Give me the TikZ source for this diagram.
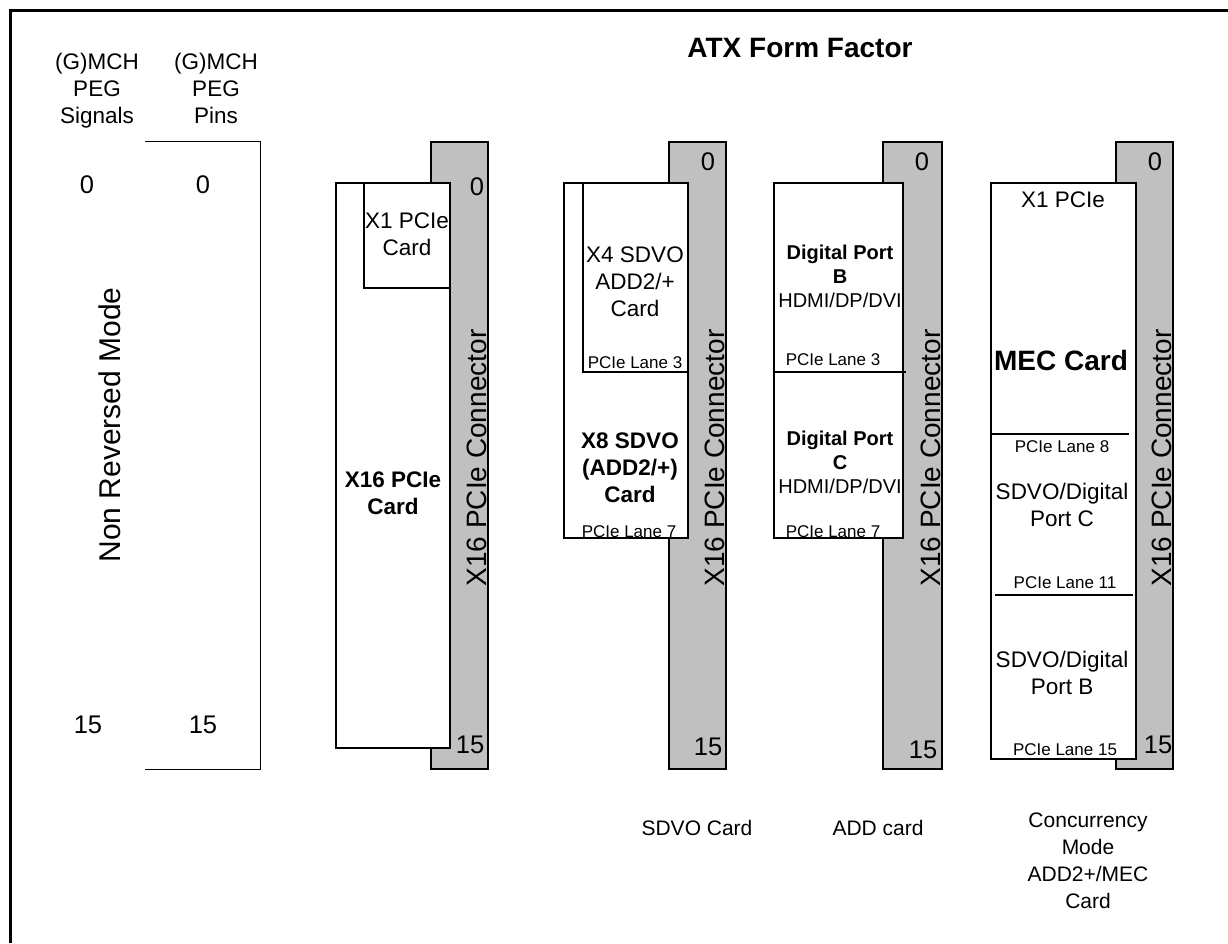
\documentclass[tikz,border=0pt]{standalone}
\usepackage{fontspec}
\setmainfont{Liberation Sans}
\definecolor{conngray}{HTML}{C0C0C0}
\newcommand\szN{\fontsize{22.5}{27}\selectfont}
\newcommand\szS{\fontsize{17}{20}\selectfont}
\newcommand\szD{\fontsize{20}{24}\selectfont}
\newcommand\szL{\fontsize{28}{33}\selectfont}
\newcommand\szR{\fontsize{30}{36}\selectfont}
\newcommand\szG{\fontsize{25.5}{30}\selectfont}
\begin{document}
\begin{tikzpicture}[x=1pt,y=-1pt,
  conn/.style={draw=black, fill=conngray, line width=1.4pt},
  card/.style={draw=black, fill=white, line width=1.4pt},
  cardline/.style={draw=black, line width=1.4pt},
  thinline/.style={draw=black, line width=0.9pt},
  txt/.style={inner sep=0pt, align=center, font=\szN},
  small/.style={inner sep=0pt, align=center, font=\szS},
  digit/.style={inner sep=0pt, font=\szG},
  conntext/.style={inner sep=0pt, rotate=90, anchor=base, font=\szL}
]
\useasboundingbox (0,0) rectangle (1228,943);
% frame
\draw[line width=3pt] (10,943) -- (10,10) -- (1228,10);
% title
\node[inner sep=0pt, font=\szL\bfseries] (title) at (800,48) {ATX Form Factor};
% left headers
\node[txt] (hsig) at (97,91) {(G)MCH\\PEG\\Signals};
\node[txt] (hpin) at (216,88) {(G)MCH\\PEG\\Pins};
\draw[thinline] (145,141) -- (260,141) -- (260,769) -- (145,769);
\node[digit] (s0) at (87,185) {0};
\node[digit] (p0) at (203,185) {0};
\node[digit] (s15) at (88,725) {15};
\node[digit] (p15) at (203,725) {15};
\node[inner sep=0pt, rotate=90, font=\szR] (mode) at (110,425) {Non Reversed Mode};

% column 1
\path[conn] (431,142) rectangle (488,769);
\path[card] (336,183) rectangle (450,748);
\path[card] (364,183) rectangle (450,288);
\node[txt] (x1a) at (407,234) {X1 PCIe\\Card};
\node[txt, font=\szN\bfseries] (x16) at (393,493) {X16 PCIe\\Card};
\node[digit] (c1z) at (477,187) {0};
\node[digit] (c1f) at (470,745) {15};
\node[conntext] (c1t) at (486,458) {X16 PCIe Connector};

% column 2
\path[conn] (669,142) rectangle (726,769);
\path[card] (564,183) rectangle (688,538);
\draw[cardline] (583,183) -- (583,372) -- (688,372);
\node[txt] (x4) at (635,282) {X4 SDVO\\ADD2/+\\Card};
\node[small] (l3a) at (635,363) {PCIe Lane 3};
\node[txt, font=\szN\bfseries] (x8) at (630,468) {X8 SDVO\\(ADD2/+)\\Card};
\node[small] (l7a) at (629,532) {PCIe Lane 7};
\node[digit] (c2z) at (708,162) {0};
\node[digit] (c2f) at (708,747) {15};
\node[conntext] (c2t) at (724,458) {X16 PCIe Connector};

% column 3
\path[conn] (883,142) rectangle (942,769);
\path[card] (774,183) rectangle (903,538);
\draw[cardline] (774,372) -- (906,372);
\node[txt, font=\szD] (dpb) at (840,276) {\textbf{Digital Port}\\\textbf{B}\\HDMI/DP/DVI};
\node[small] (l3b) at (833,360) {PCIe Lane 3};
\node[txt, font=\szD] (dpc) at (840,462) {\textbf{Digital Port}\\\textbf{C}\\HDMI/DP/DVI};
\node[small] (l7b) at (833,532) {PCIe Lane 7};
\node[digit] (c3z) at (922,162) {0};
\node[digit] (c3f) at (923,750) {15};
\node[conntext] (c3t) at (940,458) {X16 PCIe Connector};

% column 4
\path[conn] (1116,142) rectangle (1173,769);
\path[card] (991,183) rectangle (1136,759);
\draw[cardline] (991,434) -- (1129,434);
\draw[cardline] (995,595) -- (1133,595);
\node[txt] (x1b) at (1063,200) {X1 PCIe};
\node[inner sep=0pt, font=\szL\bfseries] (mec) at (1061,360) {MEC Card};
\node[small] (l8) at (1062,447) {PCIe Lane 8};
\node[txt] (sdc) at (1062,505) {SDVO/Digital\\Port C};
\node[small] (l11) at (1065,583) {PCIe Lane 11};
\node[txt] (sdb) at (1062,673) {SDVO/Digital\\Port B};
\node[small] (l15) at (1065,750) {PCIe Lane 15};
\node[digit] (c4z) at (1155,162) {0};
\node[digit] (c4f) at (1158,745) {15};
\node[conntext] (c4t) at (1171,458) {X16 PCIe Connector};

% bottom labels
\node[txt, font=\fontsize{21}{27}\selectfont] (lsdvo) at (697,828) {SDVO Card};
\node[txt, font=\fontsize{21}{27}\selectfont] (ladd) at (878,828) {ADD card};
\node[txt, font=\fontsize{21}{27}\selectfont] (lcon) at (1088,861) {Concurrency\\Mode\\ADD2+/MEC\\Card};
\end{tikzpicture}
\end{document}
